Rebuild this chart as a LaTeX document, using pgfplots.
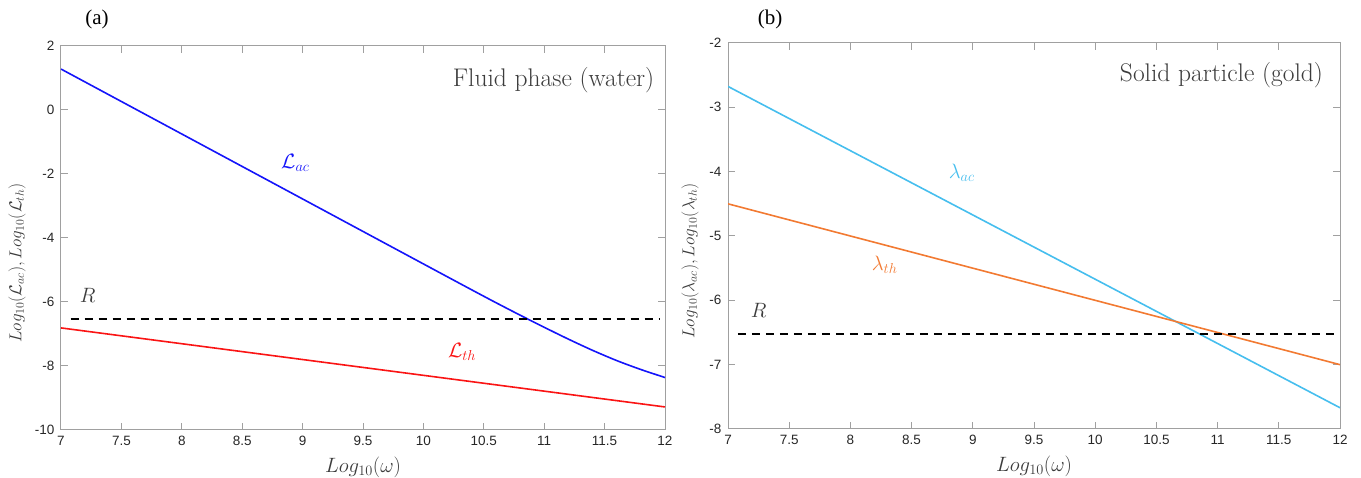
\documentclass[border=0pt]{standalone}
\usepackage{fontspec}
\usepackage{pgfplots}
\pgfplotsset{compat=1.18}
\newfontfamily\arialfont{Liberation Sans}
\newfontfamily\timesfont{Liberation Serif}

\definecolor{lacblue}{RGB}{20,20,250}
\definecolor{lthred}{RGB}{250,20,20}
\definecolor{lamac}{RGB}{70,190,238}
\definecolor{lamth}{RGB}{242,122,50}
\definecolor{axgray}{RGB}{160,160,160}
\definecolor{txtgray}{RGB}{60,60,60}

\newcommand{\xlabfont}{\fontsize{20.5}{24}\selectfont}
\newcommand{\ylabfont}{\fontsize{16.5}{19}\selectfont}
\newcommand{\curvefont}{\fontsize{22}{26}\selectfont}
\newcommand{\boxfont}{\fontsize{25.5}{30}\selectfont}

\pgfplotsset{
  panel/.style={
    scale only axis,
    anchor=south west,
    xmin=7, xmax=12,
    xtick={7,7.5,...,12},
    tick align=inside,
    major tick length=7pt,
    axis line style={axgray, line width=1pt},
    every tick/.style={axgray, line width=1pt},
    ticklabel style={font=\arialfont\fontsize{13.5}{16}\selectfont, text=black!85},
    /pgf/number format/assume math mode=true,
    xticklabel style={yshift=-3pt},
    yticklabel style={xshift=-3pt},
    xlabel style={at={(rel axis cs:0.5,0)}, anchor=center, yshift=-37pt,
                  font=\xlabfont, text=txtgray},
    clip=true,
  },
  rline/.style={black, line width=2pt, dash pattern=on 8pt off 6pt},
}

\begin{document}
\begin{tikzpicture}
\path[use as bounding box] (0,0) rectangle (1361pt,478pt);

% (a) fluid phase
\begin{axis}[panel,
  at={(61pt,48pt)}, width=604pt, height=384pt,
  ymin=-10, ymax=2, ytick={-10,-8,...,2},
  xlabel={$Log_{10}(\omega)$},
  ylabel={$Log_{10}(\mathcal{L}_{ac}), Log_{10}(\mathcal{L}_{th})$},
  ylabel style={at={(rel axis cs:0,0.5)}, anchor=center, yshift=44pt,
                xshift=-25pt, font=\ylabfont, text=txtgray},
]
\addplot[lacblue, line width=1.6pt, smooth, tension=0.5] coordinates {
  (7,1.28) (8,-0.75) (9,-2.78) (10,-4.81) (10.4,-5.62) (10.6,-6.02)
  (10.8,-6.41) (11.0,-6.79) (11.2,-7.16) (11.4,-7.51) (11.6,-7.83)
  (11.8,-8.11) (12.0,-8.36)};
\addplot[lthred, line width=1.6pt] coordinates {(7,-6.81) (12,-9.28)};
\addplot[rline] coordinates {(7.08,-6.53) (11.95,-6.53)};
\node[text=lacblue, font=\curvefont] at (axis cs:8.94,-1.66) {$\mathcal{L}_{ac}$};
\node[text=lthred, font=\curvefont] at (axis cs:10.32,-7.56) {$\mathcal{L}_{th}$};
\node[text=txtgray, font=\curvefont] at (axis cs:7.22,-5.81) {$R$};
\node[text=txtgray, anchor=east, font=\boxfont] at (axis cs:11.94,0.94) {Fluid phase (water)};
\end{axis}
\node[font=\timesfont\fontsize{21}{24}\selectfont] at (97pt,459pt) {(a)};

% (b) solid particle
\begin{axis}[panel,
  at={(728pt,49pt)}, width=612pt, height=386pt,
  ymin=-8, ymax=-2, ytick={-8,-7,...,-2},
  xlabel={$Log_{10}(\omega)$},
  ylabel={$Log_{10}(\lambda_{ac}), Log_{10}(\lambda_{th})$},
  ylabel style={at={(rel axis cs:0,0.5)}, anchor=center, yshift=38pt,
                xshift=-25pt, font=\ylabfont, text=txtgray},
]
\addplot[lamac, line width=1.6pt] coordinates {(7,-2.675) (12,-7.67)};
\addplot[lamth, line width=1.6pt] coordinates {(7,-4.50) (12,-7.00)};
\addplot[rline] coordinates {(7.08,-6.53) (11.95,-6.53)};
\node[text=lamac, font=\curvefont] at (axis cs:8.91,-4.02) {$\lambda_{ac}$};
\node[text=lamth, font=\curvefont] at (axis cs:8.28,-5.45) {$\lambda_{th}$};
\node[text=txtgray, font=\curvefont] at (axis cs:7.25,-6.15) {$R$};
\node[text=txtgray, anchor=east, font=\boxfont] at (axis cs:11.89,-2.5) {Solid particle (gold)};
\end{axis}
\node[font=\timesfont\fontsize{21}{24}\selectfont] at (770pt,459pt) {(b)};
\end{tikzpicture}
\end{document}
